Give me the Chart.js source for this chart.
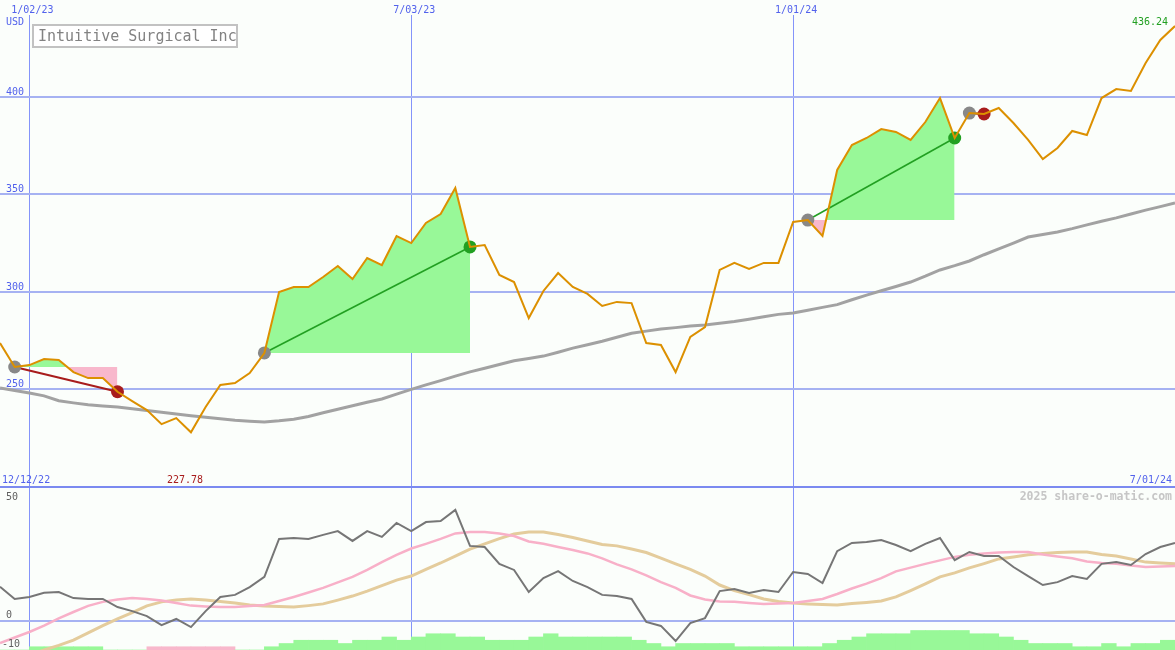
<!DOCTYPE html>
<html>
<head>
<meta charset="utf-8">
<title>Intuitive Surgical Inc</title>
<script src="https://cdn.jsdelivr.net/npm/chart.js@4.4.1/dist/chart.umd.min.js"></script>
<style>
  html, body { margin: 0; padding: 0; background: #fbfefb; }
  #wrap { position: relative; width: 1175px; height: 650px; }
  canvas { display: block; }
</style>
</head>
<body>
<div id="wrap"><canvas id="chart" width="1175" height="650"></canvas></div>
<script>
/* weekly closes, week 0 = 12/19/22 ... week 80 = 7/01/24 */

const dateTickWeeks  = [2, 28, 54];
const dateTickLabels = ['1/02/23', '7/03/23', '1/01/24'];
const priceTicks = [250, 300, 350, 400];

const price = [
  273.6, 261.3, 262.3, 265.4, 264.9, 258.7, 255.6, 255.6, 248.6, 243.8,
  239.2, 232.0, 235.1, 227.78, 240.8, 252.1, 253.1, 258.2, 268.5, 299.8,
  302.3, 302.3, 307.5, 313.1, 306.4, 317.2, 313.6, 328.5, 324.9, 335.2,
  339.8, 353.2, 322.9, 323.9, 308.5, 304.9, 286.4, 300.3, 309.5, 302.4,
  298.8, 292.6, 294.7, 294.1, 273.6, 272.6, 258.7, 276.7, 281.8, 311.1,
  314.7, 311.6, 314.7, 314.7, 335.7, 336.7, 328.5, 362.4, 375.2, 378.8,
  383.4, 381.9, 377.8, 387.0, 399.3, 378.8, 391.6, 391.1, 394.2, 386.5,
  377.8, 368.0, 373.7, 382.4, 380.3, 399.3, 403.9, 402.9, 417.3, 429.1, 436.24
];

const priceAvg = [
  250.5, 249.2, 248.0, 246.5, 244.0, 242.9, 241.9, 241.3, 240.8, 239.9,
  239.0, 238.1, 237.2, 236.3, 235.5, 234.8, 234.0, 233.5, 233.1, 233.7,
  234.5, 235.9, 237.8, 239.6, 241.4, 243.2, 244.9, 247.4, 249.8, 252.1,
  254.3, 256.6, 258.8, 260.7, 262.6, 264.5, 265.7, 266.9, 268.9, 271.0,
  272.7, 274.5, 276.6, 278.6, 279.7, 280.8, 281.5, 282.3, 282.9, 283.7,
  284.6, 285.8, 287.1, 288.3, 289.0, 290.4, 291.9, 293.3, 295.8, 298.2,
  300.4, 302.6, 304.9, 307.9, 311.1, 313.3, 315.7, 318.9, 321.9, 324.9,
  328.0, 329.3, 330.6, 332.3, 334.2, 336.1, 337.8, 339.8, 341.8, 343.6, 345.5
];

// trades: entry week / exit week
const tradeEntryWeek = [1, 18, 55, 66];
const tradeExitWeek  = [8, 32, 65, 67];

// lower panel
const oscMain = [
  11.8, 7.6, 8.3, 9.7, 10.0, 7.9, 7.6, 7.6, 4.8, 3.4,
  1.7, -1.4, 0.7, -2.1, 3.4, 8.3, 9.0, 11.7, 15.2, 28.3,
  28.6, 28.3, 29.7, 31.0, 27.6, 31.0, 29.0, 33.8, 31.0, 34.1,
  34.5, 38.3, 25.9, 25.5, 19.7, 17.6, 10.0, 14.8, 17.2, 13.8,
  11.7, 9.0, 8.6, 7.6, -0.3, -1.7, -6.9, -0.7, 1.0, 10.3,
  11.0, 9.7, 10.7, 10.0, 16.9, 16.2, 13.1, 24.1, 26.9, 27.2,
  27.9, 26.2, 24.1, 26.6, 28.6, 21.0, 23.8, 22.4, 22.4, 18.6,
  15.5, 12.4, 13.4, 15.5, 14.5, 19.7, 20.3, 19.3, 23.1, 25.5, 26.9
];
const oscFast = [
  -7.6, -5.7, -3.8, -1.6, 0.9, 3.1, 5.2, 6.6, 7.4, 7.9,
  7.6, 7.1, 6.2, 5.3, 5.0, 4.8, 4.8, 5.2, 5.5, 6.9,
  8.3, 9.8, 11.4, 13.3, 15.2, 17.6, 20.3, 22.8, 25.0, 26.6,
  28.3, 30.2, 30.7, 30.7, 30.2, 29.3, 27.4, 26.6, 25.5, 24.5,
  23.3, 21.6, 19.5, 17.8, 15.7, 13.4, 11.4, 8.8, 7.4, 6.7,
  6.6, 6.2, 5.9, 6.0, 6.2, 6.9, 7.6, 9.3, 11.2, 12.9,
  14.8, 17.1, 18.4, 19.7, 20.9, 22.1, 22.8, 23.3, 23.6, 23.8,
  23.8, 22.9, 22.2, 21.6, 20.5, 20.0, 19.7, 19.1, 18.6, 18.8, 19.0
];
const oscSlow = [
  -16.2, -14.1, -11.7, -10.0, -8.4, -6.6, -4.1, -1.6, 0.7, 2.9,
  5.2, 6.6, 7.2, 7.6, 7.2, 6.7, 6.2, 5.5, 5.2, 5.0,
  4.8, 5.3, 5.9, 7.2, 8.6, 10.3, 12.2, 14.1, 15.5, 17.8,
  20.0, 22.4, 24.8, 26.6, 28.4, 30.0, 30.7, 30.7, 29.8, 28.8,
  27.6, 26.4, 25.9, 24.8, 23.6, 21.7, 19.7, 17.8, 15.5, 12.4,
  10.5, 9.1, 7.6, 6.7, 6.2, 5.9, 5.7, 5.5, 6.0, 6.4,
  6.9, 8.3, 10.5, 12.8, 15.2, 16.6, 18.3, 19.8, 21.4, 22.1,
  22.8, 23.3, 23.6, 23.8, 23.8, 22.9, 22.4, 21.4, 20.3, 20.0, 19.7
];
// weekly trend histogram (one bar per week, + green / - pink)
const trendHist = [
  0, 0, 1, 1, 1, 1, 1, 0, 0, 0,
  -1, -1, -1, -1, -1, -1, 0, 0, 1, 2,
  3, 3, 3, 2, 3, 3, 4, 3, 4, 5,
  5, 4, 4, 3, 3, 3, 4, 5, 4, 4,
  4, 4, 4, 3, 2, 1, 2, 2, 2, 2,
  1, 1, 1, 1, 1, 1, 2, 3, 4, 5,
  5, 5, 6, 6, 6, 6, 5, 5, 4, 3,
  2, 2, 2, 1, 1, 2, 1, 2, 2, 3
];
const oscTickLabels = [['50', 46.2], ['0', 0], ['-10', -10]];

const BG = '#fbfefb';
const GRID = '#a6b2f2';
const VGRID = '#8494fa';
const SEP = '#7b8af0';
const AXIS_TXT = '#5262ec';
const ORANGE = '#dc9000';
const GREEN = '#22a022';
const RED = '#a81c1c';
const FILL_UP = '#98f898';
const FILL_DN = '#f8b8cc';
const MONO = '"DejaVu Sans Mono", "Liberation Mono", monospace';

const pts = arr => arr.map((v, i) => ({ x: i, y: v }));
const noFit = axis => s => { if(axis === 'x') s.height = 0; else s.width = 0; };

/* ── datasets ── */
const datasets = [];

datasets.push({
  label: 'price', data: pts(price), yAxisID: 'y',
  borderColor: ORANGE, borderWidth: 2, pointRadius: 0, tension: 0, order: 0
});

const entryPts = [], exitPts = [], exitColors = [];
tradeEntryWeek.forEach((e, i) => {
  const x = tradeExitWeek[i];
  const p0 = price[e], p1 = price[x];
  const win = p1 > p0;
  datasets.push({
    label: 'fill' + i, yAxisID: 'y',
    data: price.slice(e, x + 1).map((v, j) => ({ x: e + j, y: v })),
    borderWidth: 0, pointRadius: 0, tension: 0,
    fill: { target: { value: p0 }, above: FILL_UP, below: FILL_DN },
    order: 6
  });
  datasets.push({
    label: 'trade' + i, yAxisID: 'y',
    data: [{ x: e, y: p0 }, { x: x, y: p1 }],
    borderColor: win ? GREEN : RED, borderWidth: win ? 1.6 : 2.2, pointRadius: 0, order: 3
  });
  entryPts.push({ x: e, y: p0 });
  exitPts.push({ x: x, y: p1 });
  exitColors.push(win ? GREEN : RED);
});

datasets.push({
  label: 'entries', data: entryPts, yAxisID: 'y', showLine: false,
  pointRadius: 6.5, pointBorderWidth: 0, pointBackgroundColor: '#888888', order: 2
});
datasets.push({
  label: 'exits', data: exitPts, yAxisID: 'y', showLine: false,
  pointRadius: 6.5, pointBorderWidth: 0, pointBackgroundColor: exitColors, order: 2
});

datasets.push({
  label: 'avg', data: pts(priceAvg), yAxisID: 'y',
  borderColor: '#a2a2a2', borderWidth: 3, pointRadius: 0, order: 7
});

datasets.push({
  label: 'oscMain', data: pts(oscMain), yAxisID: 'y2',
  borderColor: '#767676', borderWidth: 2, pointRadius: 0, order: 8
});
datasets.push({
  label: 'oscFast', data: pts(oscFast), yAxisID: 'y2',
  borderColor: '#f8b0c8', borderWidth: 2.5, pointRadius: 0, order: 9
});
datasets.push({
  label: 'oscSlow', data: pts(oscSlow), yAxisID: 'y2',
  borderColor: '#e4cc9c', borderWidth: 3, pointRadius: 0, order: 10
});
datasets.push({
  type: 'bar', label: 'trend', yAxisID: 'y3',
  data: trendHist.map((v, i) => ({ x: i + 0.5, y: Math.abs(v) })),
  backgroundColor: trendHist.map(v => v < 0 ? FILL_DN : FILL_UP),
  borderWidth: 0, barPercentage: 1, categoryPercentage: 1, order: 11
});

/* ── text overlay ── */
const overlayText = {
  id: 'overlayText',
  afterDraw(chart){
    const { ctx, scales: { x, y, y2 } } = chart;
    const W = chart.width;
    ctx.save();
    ctx.textBaseline = 'alphabetic';
    ctx.font = '10px ' + MONO;

    // date labels over vertical grid lines
    dateTickWeeks.forEach((w, i) => {
      const px = x.getPixelForValue(w) + 3;
      const tw = ctx.measureText(dateTickLabels[i]).width;
      ctx.fillStyle = BG;
      ctx.fillRect(px - tw / 2 - 1, 0, tw + 2, 15);
      ctx.fillStyle = AXIS_TXT;
      ctx.textAlign = 'center';
      ctx.fillText(dateTickLabels[i], px, 13);
    });

    ctx.textAlign = 'left';
    ctx.fillStyle = AXIS_TXT;
    ctx.fillText('USD', 6, 25);
    priceTicks.forEach(v => ctx.fillText(String(v), 6, y.getPixelForValue(v) - 2));

    const sepY = y2.getPixelForValue(oscTickLabels[0][1]);
    ctx.fillText('12/12/22', 2, sepY - 4);
    ctx.textAlign = 'right';
    ctx.fillText('7/01/24', W - 3, sepY - 4);

    // min / last price
    const minV = Math.min(...price);
    const minI = price.indexOf(minV);
    ctx.textAlign = 'center';
    ctx.fillStyle = RED;
    ctx.fillText(minV.toFixed(2), x.getPixelForValue(minI) - 6, sepY - 4);
    ctx.textAlign = 'right';
    ctx.fillStyle = GREEN;
    ctx.fillText(price[price.length - 1].toFixed(2), W - 7, 25);

    // lower panel labels
    ctx.fillStyle = '#606060';
    ctx.textAlign = 'left';
    oscTickLabels.forEach(([t, v], i) => {
      const py = i === 0 ? sepY + 13 : y2.getPixelForValue(v) - 3;
      ctx.fillText(t, i === 2 ? 2 : 6, py);
    });

    ctx.font = 'bold 11.5px ' + MONO;
    ctx.fillStyle = '#c6c6c6';
    ctx.textAlign = 'right';
    ctx.fillText('2025 share-o-matic.com', W - 3, sepY + 13);

    // title box
    ctx.lineWidth = 2;
    ctx.strokeStyle = '#c2c2c2';
    ctx.fillStyle = '#ffffff';
    ctx.fillRect(33, 25, 204, 22);
    ctx.strokeRect(33, 25, 204, 22);
    ctx.font = '15px ' + MONO;
    ctx.fillStyle = '#828282';
    ctx.textAlign = 'left';
    ctx.fillText('Intuitive Surgical Inc', 38, 41);
    ctx.restore();
  }
};

/* ── chart ── */
new Chart(document.getElementById('chart').getContext('2d'), {
  type: 'line',
  data: { datasets },
  options: {
    responsive: false, animation: false, devicePixelRatio: 1,
    layout: { padding: 0, autoPadding: false },
    plugins: { legend: { display: false }, tooltip: { enabled: false } },
    scales: {
      x: {
        type: 'linear', min: 0, max: 80, offset: false,
        afterFit: noFit('x'),
        afterBuildTicks: s => { s.ticks = dateTickWeeks.map(v => ({ value: v })); },
        ticks: { display: false },
        grid: { color: VGRID, lineWidth: 1, drawTicks: false, offset: false },
        border: { display: false }
      },
      y: {
        type: 'linear', position: 'left', min: 116.1, max: 449.6,
        afterFit: noFit('y'),
        afterBuildTicks: s => { s.ticks = priceTicks.map(v => ({ value: v })); },
        ticks: { display: false },
        grid: { color: GRID, lineWidth: 2, drawTicks: false },
        border: { display: false }
      },
      y2: {
        type: 'linear', position: 'left', min: -10, max: 214.1,
        afterFit: noFit('y'),
        afterBuildTicks: s => { s.ticks = [0, oscTickLabels[0][1]].map(v => ({ value: v })); },
        ticks: { display: false },
        grid: { color: c => c.tick && c.tick.value === 0 ? GRID : SEP, lineWidth: 2, drawTicks: false },
        border: { display: false }
      },
      y3: {
        type: 'linear', position: 'left', min: 0, max: 200,
        afterFit: noFit('y'),
        ticks: { display: false },
        grid: { display: false },
        border: { display: false }
      }
    }
  },
  plugins: [overlayText]
});
</script>
</body>
</html>
